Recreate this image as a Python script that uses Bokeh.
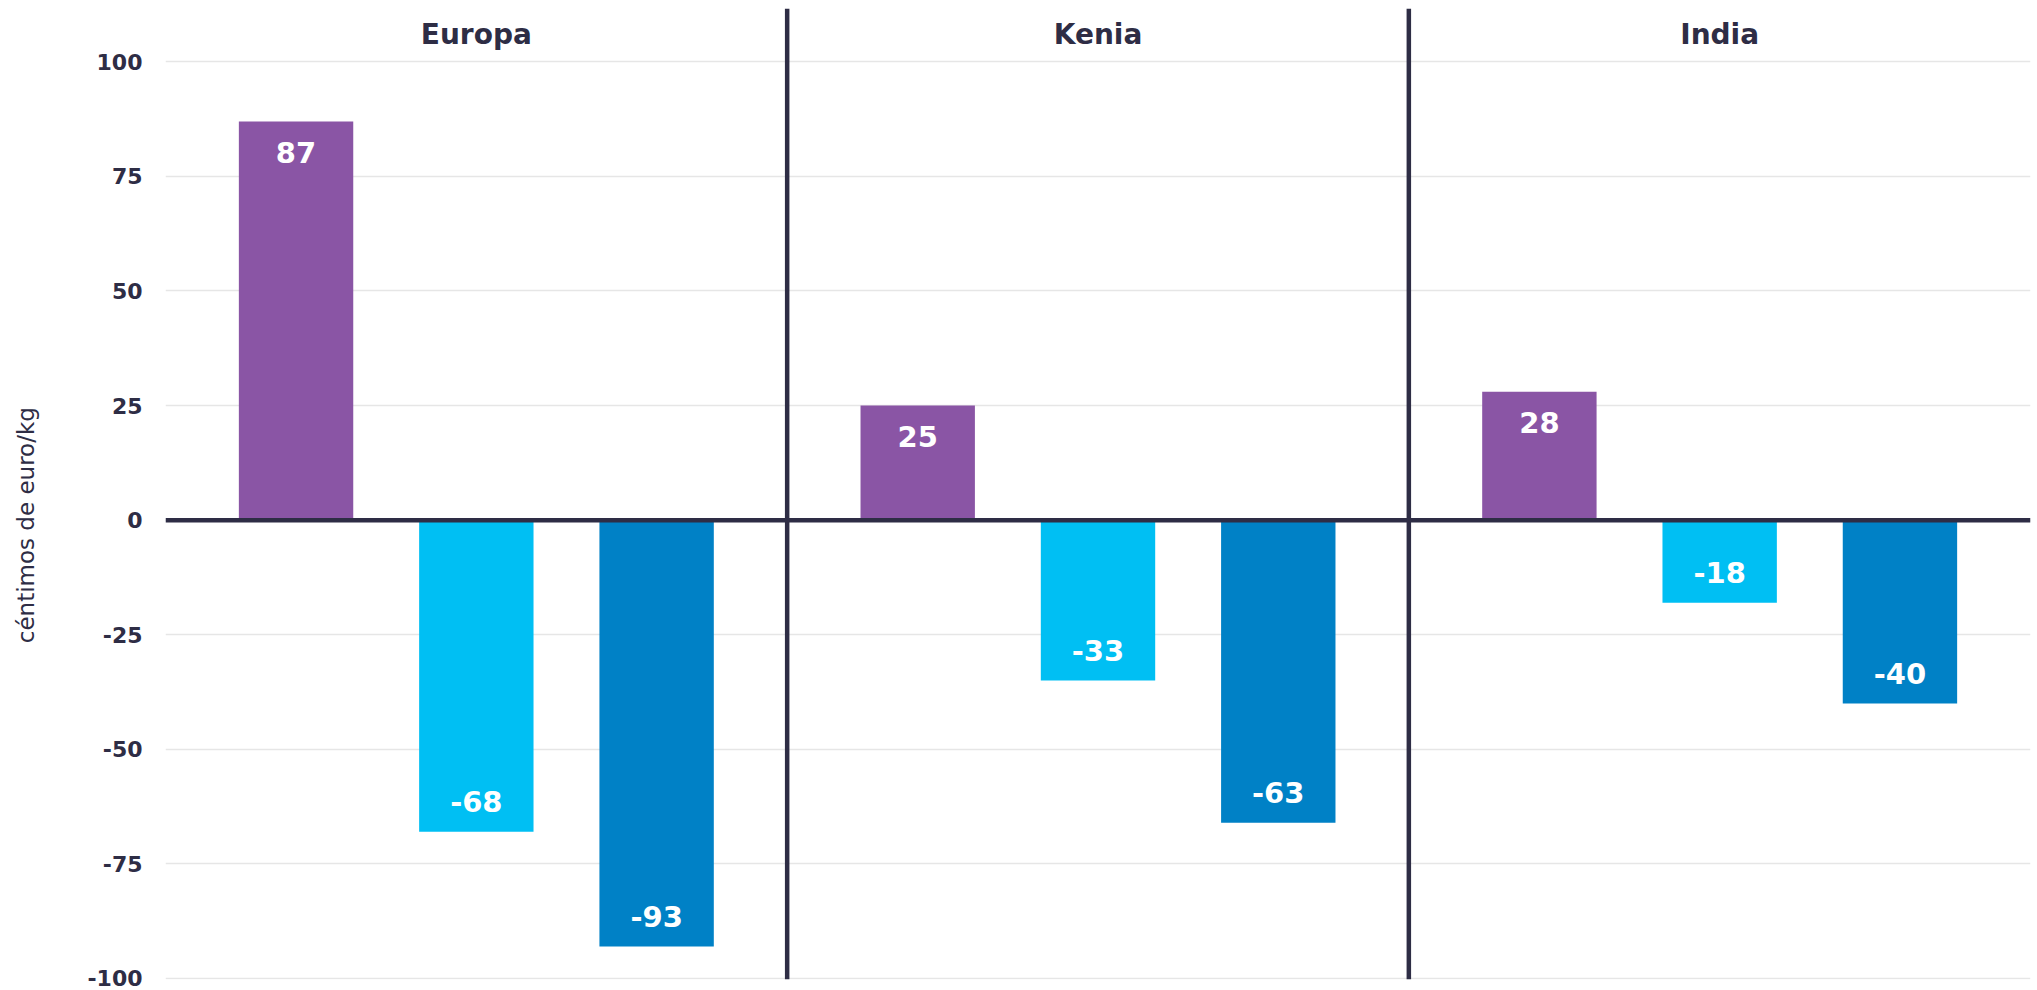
import math
from bokeh.plotting import figure
from bokeh.models import (ColumnDataSource, FactorRange, Range1d, Span, Label,
                          FixedTicker, PrintfTickFormatter)
from bokeh.transform import dodge
from bokeh.core.properties import value
from bokeh.embed import file_html
from bokeh.resources import INLINE

# ---- data ----
regions = ["Europa", "Kenia", "India"]
purple_values = [87, 25, 28]
lightblue_values = [-68, -35, -18]
darkblue_values = [-93, -66, -40]
purple_labels = ["87", "25", "28"]
lightblue_labels = ["-68", "-33", "-18"]
darkblue_labels = ["-93", "-63", "-40"]
y_ticks = [-100, -75, -50, -25, 0, 25, 50, 75, 100]
y_axis_label = "céntimos de euro/kg"

# ---- style ----
DARK = "#2e2d45"
FONT = "DejaVu Sans"
series = [
    (purple_values, purple_labels, "#8a55a5", -0.29),
    (lightblue_values, lightblue_labels, "#00bff3", 0.0),
    (darkblue_values, darkblue_labels, "#0081c6", 0.29),
]

p = figure(
    width=2037, height=990,
    x_range=FactorRange(factors=regions, range_padding=0),
    y_range=Range1d(-100.22, 111.63),
    x_axis_location=None,
    output_backend="svg", toolbar_location=None,
    min_border_left=165, min_border_right=7, min_border_top=8, min_border_bottom=11,
)
p.outline_line_color = None
p.background_fill_color = "white"
p.border_fill_color = "white"

p.xgrid.visible = False
p.ygrid.grid_line_color = "#e6e6e6"
p.ygrid.grid_line_width = 1.5
p.yaxis.ticker = FixedTicker(ticks=y_ticks)
p.yaxis.formatter = PrintfTickFormatter(format="%d")
p.yaxis.axis_line_color = None
p.yaxis.major_tick_line_color = None
p.yaxis.minor_tick_line_color = None
p.yaxis.major_label_standoff = 17
p.yaxis.major_label_text_font = FONT
p.yaxis.major_label_text_font_style = "bold"
p.yaxis.major_label_text_font_size = "22px"
p.yaxis.major_label_text_color = DARK

for vals, labs, color, off in series:
    src = ColumnDataSource(dict(
        region=regions,
        value=vals,
        label=labs,
        yoff=[31 if v >= 0 else -30 for v in vals],
    ))
    p.vbar(x=dodge("region", off, range=p.x_range), top="value", bottom=0,
           width=0.184, color=color, line_color=None, source=src)
    p.text(x=dodge("region", off, range=p.x_range), y="value", text="label",
           y_offset="yoff", text_align="center", text_baseline="middle",
           text_color="white", text_font=value(FONT), text_font_style="bold",
           text_font_size="29px", source=src)

# region titles
title_src = ColumnDataSource(dict(region=regions, y=[105.9] * len(regions)))
p.text(x="region", y="y", text="region", text_align="center", text_baseline="middle",
       text_color=DARK, text_font=value(FONT), text_font_style="bold",
       text_font_size="28px", source=title_src)

# separators and zero line
for loc in range(1, len(regions)):
    p.add_layout(Span(location=loc, dimension="height", line_color=DARK, line_width=4.5))
p.add_layout(Span(location=0, dimension="width", line_color=DARK, line_width=4.5))

# y-axis title, centred on the -100..100 span
p.add_layout(Label(x=25, y=-1.1, x_units="canvas", y_units="data", text=y_axis_label,
                   angle=math.pi / 2, text_align="center", text_baseline="middle",
                   text_font=FONT, text_font_size="23px", text_color=DARK), "left")

open("out.html", "w").write(file_html(p, INLINE))
